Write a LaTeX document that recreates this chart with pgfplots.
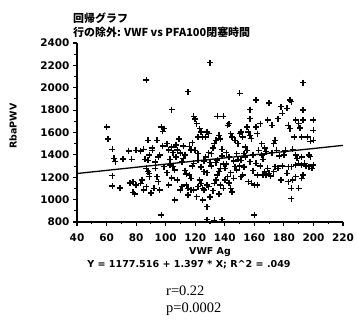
\documentclass[border=0pt]{standalone}
\usepackage{pgfplots}
\pgfplotsset{compat=1.18}
\usepackage{pgfplotstable}
\usepackage{fontspec}
\setmainfont{DejaVu Sans}
\newfontfamily\cjk{Noto Sans CJK JP}
\newfontfamily\serif{Liberation Serif}
\pgfplotstableread{
x y
60 1650
61 1540
64 1450
65 1370
66 1340
64 1215
64 1120
69 1105
71 1365
75 1435
77 1360
76 1150
78 1065
79 1050
80 1130
78 1160
80 1440
83 1435
85 1450
84 1175
83 1145
85 1085
87 1115
88 1250
87 1280
86 1360
88 1350
89 1400
89 1205
87 2070
88 1530
89 1235
91 1440
91 1460
90 1060
93 1280
94 1530
94 1205
95 1160
96 1400
96 1085
97 862
97 1650
98 1610
99 1635
99 1295
95 1380
92 1100
98 1480
93 1335
101 1500
102 1445
103 1310
104 1805
104 1470
105 1295
106 996
107 1490
108 1445
108 1175
110 1415
110 1085
103 1360
101 1240
105 1420
109 1540
102 1130
107 1380
106 1265
104 1195
111 1115
112 1370
113 1400
114 1130
115 1100
115 1965
116 1475
116 1220
117 1445
117 1190
119 1745
119 1085
118 1300
113 1260
111 1335
119 1325
115 1040
112 1480
118 1510
120 1720
114 1230
117 1090
120 1440
121 1026
122 1410
122 1115
123 1635
123 1175
124 1605
124 1145
125 1560
125 1100
125 996
126 1085
127 1560
128 1605
128 1130
128 937
129 1590
129 1115
130 1025
130 2225
121 1680
122 1560
126 1345
124 1290
127 1380
129 1420
122 1350
126 1250
128 1240
130 1330
131 1300
133 1500
133 1145
134 1530
134 1175
135 1745
135 1220
136 1575
136 1250
137 1540
137 1130
139 1100
139 1745
140 1175
132 1460
138 1390
131 1410
135 1355
139 1320
137 1280
132 1080
136 1050
138 1450
134 1330
140 1280
142 1665
142 1205
143 1680
144 1590
144 1100
145 1560
145 1070
147 1530
147 1295
148 1265
149 1500
150 1590
150 1950
141 1420
143 1380
146 1345
148 1410
141 1320
144 1240
149 1360
146 1190
143 1150
150 1300
151 1605
151 1205
152 1560
152 1220
155 1650
156 1605
156 1160
157 1575
157 1725
157 1805
158 1545
158 1145
160 1130
160 862
153 1410
154 1380
155 1440
159 1400
153 1290
157 1340
159 1260
154 1470
151 1350
161 1890
161 1650
161 1325
162 1590
162 1130
164 1680
165 1500
166 1220
167 1460
167 1250
168 1220
169 1710
170 1865
170 1235
163 1440
165 1400
168 1430
162 1220
164 1300
166 1360
169 1280
172 1665
173 1500
174 1530
174 1295
176 1725
176 1280
178 1830
178 1175
179 1770
172 1420
175 1440
177 1390
180 1400
171 1210
173 1250
179 1300
182 1815
182 1235
183 1665
183 1295
184 1890
184 1635
185 1875
185 1295
185 1100
185 1010
186 1175
188 1710
188 1310
188 1205
188 1400
190 1680
190 1325
190 1100
181 1440
186 1450
189 1370
183 1160
187 1560
191 1640
192 1560
192 1380
192 1310
192 1190
193 2045
193 1800
193 1710
193 1220
194 1325
196 1560
197 1400
197 1295
198 1385
199 1280
200 1710
200 1620
200 1530
200 1310
195 1300
198 1520
128 820
133 815
138 820
}\pts
\begin{document}
\begin{tikzpicture}[x=1bp,y=1bp]
\useasboundingbox (0,0) rectangle (357,329);
\begin{axis}[
  at={(77bp,107bp)}, anchor=south west,
  width=266bp, height=179bp, scale only axis,
  xmin=40, xmax=220, ymin=800, ymax=2400,
  axis x line*=bottom, axis y line*=left,
  axis line style={line width=1.4bp, -},
  xtick={40,60,...,220}, ytick={800,1000,...,2400},
  minor x tick num=1, minor y tick num=1,
  tick align=outside,
  major tick length=4bp, minor tick length=2.5bp,
  every tick/.style={line width=1.1bp, black},
  ticklabel style={font=\fontsize{10.5}{12}\selectfont\bfseries},
  xticklabel style={yshift=-4bp},
  /pgf/number format/assume math mode=true,
  /pgf/number format/1000 sep={},
  clip=false,
]
\addplot[only marks, mark=+, mark size=3bp, line width=1.45bp, black] table[x=x,y=y] {\pts};
\addplot[line width=1.3bp, black, no marks] coordinates {(40,1233.4) (220,1484.9)};
\end{axis}
\node[anchor=base west, inner sep=0, font=\cjk\bfseries\fontsize{11}{13}\selectfont] at (73,307) {回帰グラフ};
\node[anchor=base west, inner sep=0, font=\cjk\bfseries\fontsize{11}{13}\selectfont] at (73,293) {行の除外: VWF vs PFA100閉塞時間};
\node[rotate=90, inner sep=0, font=\bfseries\fontsize{9.5}{11}\selectfont] at (13,203) {RbaPWV};
\node[inner sep=0, font=\bfseries\fontsize{9.5}{11}\selectfont] at (210,77) {VWF Ag};
\node[inner sep=0, font=\bfseries\fontsize{9.6}{11}\selectfont] at (189,64) {Y = 1177.516 + 1.397 * X; R\^{}2 = .049};
\node[anchor=base west, inner sep=0, font=\serif\fontsize{14.5}{16}\selectfont] at (166,34) {r=0.22};
\node[anchor=base west, inner sep=0, font=\serif\fontsize{14.5}{16}\selectfont] at (166,17) {p=0.0002};
\end{tikzpicture}
\end{document}
